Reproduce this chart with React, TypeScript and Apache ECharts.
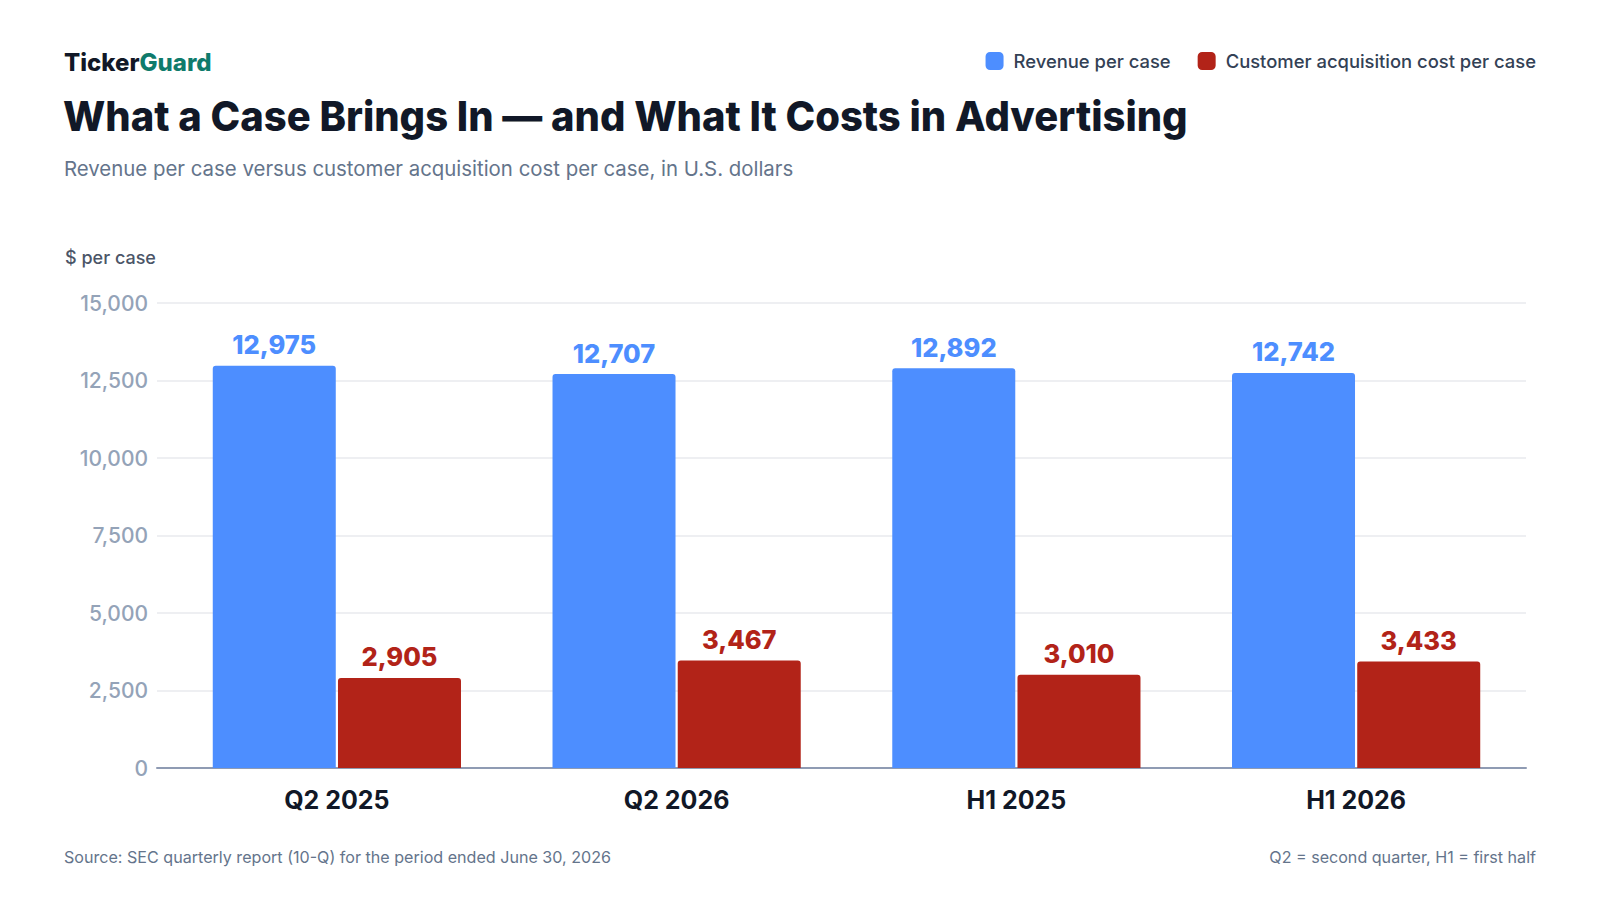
import React, { useEffect, useRef } from "react";
import * as echarts from "echarts";

const categories = ["Q2 2025", "Q2 2026", "H1 2025", "H1 2026"];
const revenuePerCase = [12975, 12707, 12892, 12742];
const cacPerCase = [2905, 3467, 3010, 3433];
const seriesNames = ["Revenue per case", "Customer acquisition cost per case"];
const yTicks = { min: 0, max: 15000, interval: 2500 };

const FONT = "Inter, 'Noto Sans', sans-serif";
const BLUE = "#4D8EFF";
const RED = "#B22318";

export default function App() {
  const ref = useRef<HTMLDivElement>(null);
  useEffect(() => {
    if (!ref.current) return;
    const chart = echarts.init(ref.current, undefined, { renderer: "svg" });
    const fmt = (v: number) => v.toLocaleString("en-US");
    const gridTop = 303;
    const gridBottom = 132;
    chart.setOption({
      animation: false,
      backgroundColor: "#ffffff",
      textStyle: { fontFamily: FONT },
      legend: {
        right: 59,
        top: 47,
        itemWidth: 18,
        itemHeight: 18,
        itemGap: 27,
        icon: "roundRect",
        textStyle: {
          fontFamily: FONT,
          fontSize: 18.4,
          fontWeight: 500,
          color: "#334155",
          padding: [0, 0, 0, 5],
        },
        data: seriesNames,
      },
      grid: [
        { left: 167, right: 74, top: gridTop, bottom: gridBottom },
        { left: 157, right: 74, top: gridTop, bottom: gridBottom },
      ],
      xAxis: [
        {
          type: "category",
          gridIndex: 0,
          data: categories,
          axisLine: { show: false },
          axisTick: { show: false },
          axisLabel: {
            margin: 19,
            fontFamily: FONT,
            fontSize: 25,
            fontWeight: 700,
            color: "#111827",
          },
        },
        {
          type: "value",
          gridIndex: 1,
          min: 0,
          max: 1,
          axisLine: { show: true, onZero: false, lineStyle: { color: "#8F9BB3", width: 2 } },
          axisTick: { show: false },
          axisLabel: { show: false },
          splitLine: { show: false },
        },
      ],
      yAxis: [
        {
          type: "value",
          gridIndex: 0,
          min: yTicks.min,
          max: yTicks.max,
          interval: yTicks.interval,
          show: false,
          splitLine: { show: false },
        },
        {
          type: "value",
          gridIndex: 1,
          min: yTicks.min,
          max: yTicks.max,
          interval: yTicks.interval,
          axisLine: { show: false },
          axisTick: { show: false },
          axisLabel: {
            margin: 9,
            fontFamily: FONT,
            fontSize: 21,
            fontWeight: 500,
            color: "#94A3B8",
            formatter: (v: number) => fmt(v),
          },
          splitLine: { show: true, lineStyle: { color: "#E8EAEE", width: 1.5 } },
        },
      ],
      series: [
        {
          name: seriesNames[0],
          type: "bar",
          xAxisIndex: 0,
          yAxisIndex: 0,
          data: revenuePerCase,
          barWidth: 123,
          barGap: "1.8%",
          itemStyle: { color: BLUE, borderRadius: [3, 3, 0, 0] },
          label: {
            show: true,
            position: "top",
            distance: 8,
            fontFamily: FONT,
            fontSize: 25.5,
            fontWeight: 800,
            color: BLUE,
            formatter: (p: any) => fmt(p.value),
          },
        },
        {
          name: seriesNames[1],
          type: "bar",
          xAxisIndex: 0,
          yAxisIndex: 0,
          data: cacPerCase,
          barWidth: 123,
          itemStyle: { color: RED, borderRadius: [3, 3, 0, 0] },
          label: {
            show: true,
            position: "top",
            distance: 8,
            fontFamily: FONT,
            fontSize: 25.5,
            fontWeight: 800,
            color: RED,
            formatter: (p: any) => fmt(p.value),
          },
        },
      ],
      graphic: [
        {
          type: "text",
          left: 64,
          top: 50,
          style: {
            text: "{a|Ticker}{b|Guard}",
            rich: {
              a: { fontFamily: FONT, fontSize: 24, fontWeight: 800, fill: "#111827", color: "#111827" },
              b: { fontFamily: FONT, fontSize: 24, fontWeight: 800, fill: "#0F7B6C", color: "#0F7B6C" },
            },
          },
        },
        {
          type: "text",
          x: 63,
          y: 116.5,
          scaleX: 0.975,
          style: {
            text: "What a Case Brings In — and What It Costs in Advertising",
            fontFamily: FONT,
            fontSize: 41,
            fontWeight: 800,
            fill: "#111827",
            verticalAlign: "middle",
          },
        },
        {
          type: "text",
          x: 64,
          y: 168.5,
          style: {
            text: "Revenue per case versus customer acquisition cost per case, in U.S. dollars",
            fontFamily: FONT,
            fontSize: 20.4,
            fill: "#64748B",
            verticalAlign: "middle",
          },
        },
        {
          type: "text",
          x: 65,
          y: 257.5,
          style: {
            text: "$ per case",
            fontFamily: FONT,
            fontSize: 18,
            fontWeight: 500,
            fill: "#4B5567",
            verticalAlign: "middle",
          },
        },
        {
          type: "text",
          x: 64,
          y: 857,
          style: {
            text: "Source: SEC quarterly report (10-Q) for the period ended June 30, 2026",
            fontFamily: FONT,
            fontSize: 16.1,
            fill: "#64748B",
            verticalAlign: "middle",
          },
        },
        {
          type: "text",
          x: 1536,
          y: 857,
          style: {
            text: "Q2 = second quarter, H1 = first half",
            fontFamily: FONT,
            fontSize: 16.1,
            fill: "#64748B",
            align: "right",
            verticalAlign: "middle",
          },
        },
      ],
    });
    return () => chart.dispose();
  }, []);
  return (
    <div
      ref={ref}
      style={{ position: "fixed", left: 0, top: 0, width: 1600, height: 900, background: "#fff" }}
    />
  );
}
